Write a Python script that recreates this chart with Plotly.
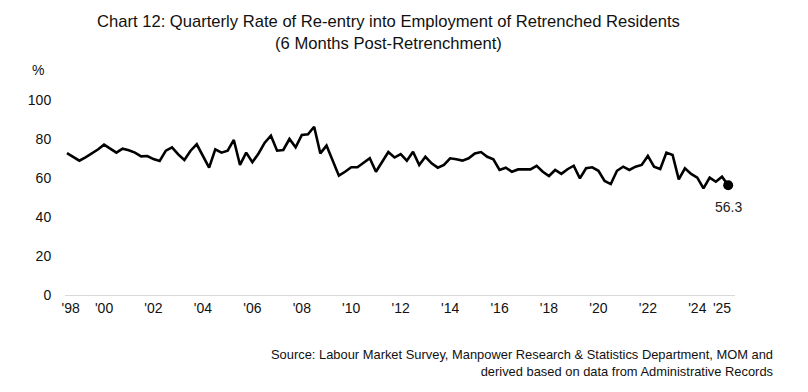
import plotly.graph_objects as go

# Quarterly rate (%), 1998Q3 .. 2025Q2 (108 quarters)
quarter_index = list(range(108))
rate = [
    72.7, 70.8, 68.9, 70.6, 72.4, 74.6, 77.1, 75.2, 73.0, 75.0,
    74.2, 73.0, 71.1, 71.3, 69.7, 68.7, 74.0, 75.7, 72.1, 69.2,
    74.0, 77.3, 71.4, 65.3, 74.7, 73.0, 74.0, 79.5, 66.7, 73.0,
    68.1, 72.6, 78.1, 81.7, 74.0, 74.4, 80.0, 75.7, 82.1, 82.4,
    86.3, 72.6, 76.6, 68.4, 61.2, 63.2, 65.5, 65.5, 67.8, 70.1,
    63.2, 68.4, 73.3, 70.5, 72.3, 68.9, 73.5, 66.7, 70.9, 67.5,
    65.3, 66.7, 70.1, 69.6, 68.9, 70.1, 72.6, 73.3, 70.9, 69.6,
    64.1, 65.3, 63.2, 64.4, 64.4, 64.4, 66.2, 63.2, 61.0, 64.1,
    62.1, 64.5, 66.3, 59.8, 65.0, 65.5, 63.7, 58.5, 56.9, 63.7,
    65.8, 64.1, 65.8, 66.7, 71.3, 65.8, 64.6, 73.0, 71.8, 59.3,
    65.0, 62.1, 60.2, 54.7, 60.2, 58.1, 60.7, 56.3,
]
tick_positions = [0.6, 6, 14, 22, 30, 38, 46, 54, 62, 70, 78, 86, 94, 102, 106]
tick_labels = ["'98", "'00", "'02", "'04", "'06", "'08", "'10", "'12", "'14",
               "'16", "'18", "'20", "'22", "'24", "'25"]
y_ticks = [0, 20, 40, 60, 80, 100]

FONT = "Arial, Liberation Sans, sans-serif"

fig = go.Figure()
fig.add_trace(go.Scatter(
    x=quarter_index, y=rate, mode="lines",
    line=dict(color="black", width=2.6),
    hoverinfo="skip", showlegend=False,
))
fig.add_trace(go.Scatter(
    x=[quarter_index[-1]], y=[rate[-1]], mode="markers",
    marker=dict(color="black", size=10),
    cliponaxis=False, hoverinfo="skip", showlegend=False,
))
fig.add_annotation(
    x=quarter_index[-1], y=rate[-1], text=f"{rate[-1]:.1f}",
    showarrow=False, yshift=-22, xanchor="center", yanchor="middle",
    font=dict(family=FONT, size=14, color="#222"),
)

fig.update_layout(
    width=808, height=392,
    margin=dict(l=57, r=81, t=92, b=105),
    paper_bgcolor="white", plot_bgcolor="white",
    font=dict(family=FONT, size=14, color="#111"),
    showlegend=False,
)
fig.update_xaxes(
    range=[-0.32, 108.1],
    tickvals=tick_positions, ticktext=tick_labels,
    showgrid=False, zeroline=False,
    showline=True, linecolor="#d9d9d9", linewidth=1,
    ticks="",
    tickfont=dict(family=FONT, size=14, color="#111"),
)
fig.update_yaxes(
    range=[0, 100], tickvals=y_ticks,
    showgrid=False, zeroline=False, showline=False,
    ticks="outside", ticklen=10, tickcolor="white",
    tickfont=dict(family=FONT, size=14, color="#111"),
)

fig.add_annotation(
    text="Chart 12: Quarterly Rate of Re-entry into Employment of Retrenched Residents<br>(6 Months Post-Retrenchment)",
    xref="paper", yref="paper", x=0.5, y=1, yshift=90, xanchor="center", yanchor="top",
    xshift=-12, showarrow=False, align="center",
    font=dict(family=FONT, size=16.6, color="#111"),
)
fig.add_annotation(
    text="%", xref="paper", yref="paper", x=0, y=1, xshift=-27, yshift=30,
    xanchor="center", yanchor="middle", showarrow=False,
    font=dict(family=FONT, size=14, color="#111"),
)
fig.add_annotation(
    text="Source: Labour Market Survey, Manpower Research & Statistics Department, MOM and<br>derived based on data from Administrative Records",
    xref="paper", yref="paper", x=1, y=0, xshift=40, yshift=-50,
    xanchor="right", yanchor="top", showarrow=False, align="right",
    font=dict(family=FONT, size=12.9, color="#111"),
)

fig.write_html("out.html")
